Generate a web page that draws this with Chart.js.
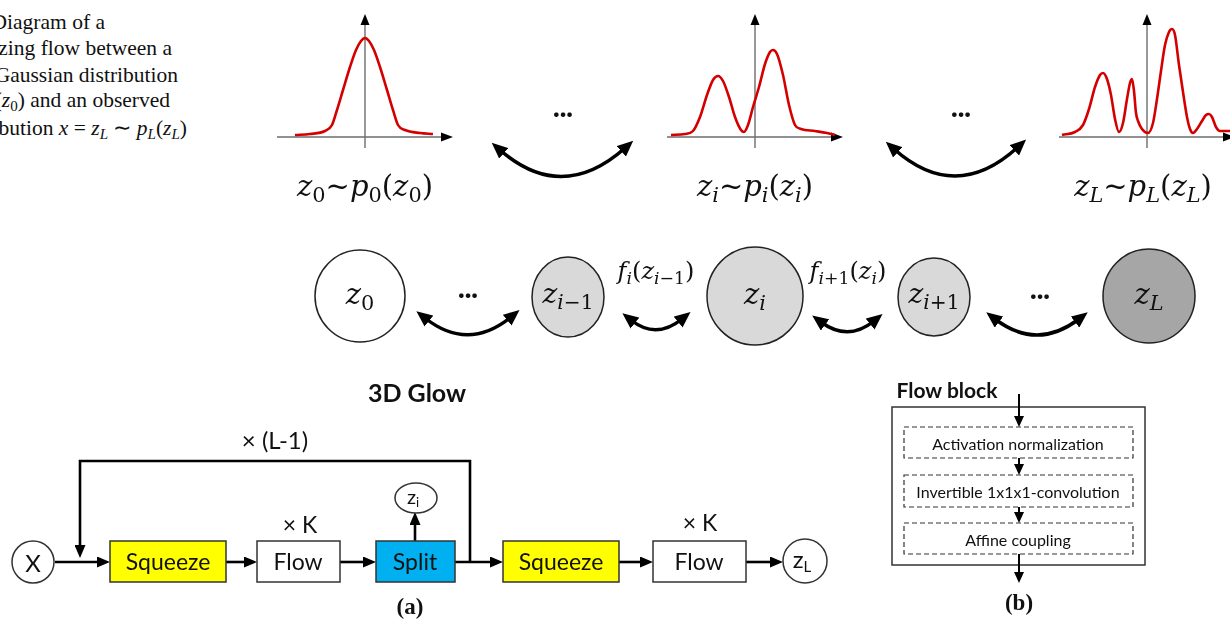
<!DOCTYPE html>
<html>
<head>
<meta charset="utf-8">
<script src="https://cdn.jsdelivr.net/npm/chart.js@4.4.1/dist/chart.umd.min.js"></script>
<style>
  body { margin: 0; background: #fff; }
  #page { position: relative; width: 1230px; height: 619px; overflow: hidden; background: #fff; }
  .mini { position: absolute; }
  #diagram { position: absolute; left: 0; top: 0; }
  .cap { position: absolute; font-family: 'Liberation Serif', serif; font-size: 21.5px; line-height: 26px; white-space: nowrap; color: #111; }
  .cap sub { font-size: 0.7em; vertical-align: -0.25em; line-height: 0; }
  .m { position: absolute; transform: translate(-50%, -50%); font-family: 'DejaVu Serif', serif; white-space: nowrap; color: #111; line-height: 1; }
  .m sub { font-size: 0.72em; vertical-align: -0.3em; line-height: 0; }
  .m i { font-style: italic; }
</style>
</head>
<body>
<div id="page">
  <!-- caption, cut off by the left edge -->
  <div class="cap" style="right:1125px;top:9px">Diagram of a</div>
  <div class="cap" style="right:1058px;top:35px">normalizing flow between a</div>
  <div class="cap" style="right:1052px;top:62px">simple Gaussian distribution</div>
  <div class="cap" style="right:1060px;top:87px"><i>z</i><sub>0</sub> ∼ <i>p</i><sub>0</sub>(<i>z</i><sub>0</sub>) and an observed</div>
  <div class="cap" style="right:1043px;top:115px">distribution <i>x</i> = <i>z<sub>L</sub></i> ∼ <i>p<sub>L</sub></i>(<i>z<sub>L</sub></i>)</div>

  <div class="mini" style="left:270px;top:8px"><canvas id="dist0" width="190" height="147"></canvas></div>
  <div class="mini" style="left:660px;top:8px"><canvas id="distI" width="190" height="147"></canvas></div>
  <div class="mini" style="left:1052px;top:8px"><canvas id="distL" width="190" height="147"></canvas></div>

  <svg id="diagram" width="1230" height="619">
    <defs>
      <marker id="headBig" markerUnits="userSpaceOnUse" viewBox="0 0 16 14" markerWidth="16" markerHeight="14" refX="5" refY="7" orient="auto-start-reverse">
        <path d="M0,0 L16,7 L0,14 z" fill="#000"/>
      </marker>
      <marker id="headMid" markerUnits="userSpaceOnUse" viewBox="0 0 13 11" markerWidth="13" markerHeight="11" refX="4" refY="5.5" orient="auto-start-reverse">
        <path d="M0,0 L13,5.5 L0,11 z" fill="#000"/>
      </marker>
      <marker id="headSmall" markerUnits="userSpaceOnUse" viewBox="0 0 11 10" markerWidth="11" markerHeight="10" refX="3" refY="5" orient="auto-start-reverse">
        <path d="M0,0 L11,5 L0,10 z" fill="#000"/>
      </marker>
    </defs>

    <!-- curved double arrows between the stages -->
    <g fill="none" stroke="#000" stroke-width="3.5" marker-start="url(#headBig)" marker-end="url(#headBig)">
      <path d="M500,150 Q562,204 625,148"/>
      <path d="M894,149 Q956,204 1018,147"/>
      <path d="M425,318 Q468,352 511,317"/>
      <path d="M631,320 Q656,340 682,319"/>
      <path d="M821,322 Q848,342 874,321"/>
      <path d="M995,319 Q1037,351 1079,319"/>
    </g>
    <g font-family="Lato, sans-serif" font-weight="900" font-size="28" text-anchor="middle" fill="#111">
      <text x="563" y="117">...</text>
      <text x="961" y="117">...</text>
      <text x="468" y="298">...</text>
      <text x="1040" y="299">...</text>
    </g>

    <!-- middle row: latent variables -->
    <g stroke="#222" stroke-width="1.5">
      <ellipse cx="360" cy="296" rx="45" ry="46" fill="#fff"/>
      <ellipse cx="568" cy="297" rx="36" ry="40" fill="#d9d9d9"/>
      <ellipse cx="755" cy="296" rx="48" ry="49" fill="#d9d9d9"/>
      <ellipse cx="934" cy="297" rx="36" ry="39" fill="#d9d9d9"/>
      <ellipse cx="1149" cy="296" rx="46" ry="47" fill="#a6a6a6"/>
    </g>

    <!-- (a) 3D Glow -->
    <g fill="none" stroke="#000" stroke-width="2.6" marker-end="url(#headMid)">
      <path d="M55,562 H101"/>
      <path d="M226,562 H248"/>
      <path d="M340,562 H367"/>
      <path d="M455,562 H494"/>
      <path d="M619,562 H644"/>
      <path d="M746,562 H774"/>
      <path d="M415,541 V521"/>
      <path d="M470,562 V461 H80 V549"/>
    </g>
    <g stroke="#333" stroke-width="1.5">
      <ellipse cx="33" cy="562" rx="21" ry="21" fill="#fff"/>
      <ellipse cx="416" cy="498" rx="21" ry="15" fill="#fff"/>
      <ellipse cx="805" cy="561" rx="22" ry="22" fill="#fff"/>
      <rect x="110" y="541" width="116" height="41" fill="#ffff00"/>
      <rect x="257" y="541" width="83" height="41" fill="#fff"/>
      <rect x="376" y="541" width="79" height="41" fill="#00b0f0"/>
      <rect x="503" y="541" width="116" height="41" fill="#ffff00"/>
      <rect x="653" y="541" width="93" height="41" fill="#fff"/>
    </g>
    <g font-family="Lato, sans-serif" font-size="23" text-anchor="middle" dominant-baseline="central" fill="#111">
      <text x="168" y="561">Squeeze</text>
      <text x="298" y="561">Flow</text>
      <text x="415" y="561">Split</text>
      <text x="561" y="561">Squeeze</text>
      <text x="699" y="561">Flow</text>
      <text x="33" y="562" font-size="24">X</text>
      <text x="300" y="524">× K</text>
      <text x="700" y="522">× K</text>
      <text x="275" y="439" font-size="24">× (L-1)</text>
      <text x="417" y="392" font-size="25" font-weight="bold">3D Glow</text>
      <text x="413" y="496" font-size="20">z<tspan font-size="13" dy="6">i</tspan></text>
      <text x="802" y="558" font-size="24">z<tspan font-size="15" dy="8">L</tspan></text>
    </g>

    <!-- (b) Flow block -->
    <rect x="892" y="407" width="253" height="158" fill="none" stroke="#333" stroke-width="1.5"/>
    <g fill="none" stroke="#333" stroke-width="1.2" stroke-dasharray="5,3">
      <rect x="904" y="427" width="229" height="31"/>
      <rect x="904" y="475" width="229" height="32"/>
      <rect x="904" y="523" width="229" height="31"/>
    </g>
    <g fill="none" stroke="#000" stroke-width="2" marker-end="url(#headSmall)">
      <path d="M1019,394 V419"/>
      <path d="M1019,458 V467"/>
      <path d="M1019,507 V515"/>
      <path d="M1019,554 V575"/>
    </g>
    <g font-family="Lato, sans-serif" font-size="16" text-anchor="middle" dominant-baseline="central" fill="#111">
      <text x="1018" y="443">Activation normalization</text>
      <text x="1018" y="491">Invertible 1x1x1-convolution</text>
      <text x="1018" y="539">Affine coupling</text>
      <text x="947" y="389" font-size="21" font-weight="bold">Flow block</text>
    </g>
    <g font-family="'Liberation Serif', serif" font-size="23" font-weight="bold" text-anchor="middle" dominant-baseline="central" fill="#111">
      <text x="410" y="606">(a)</text>
      <text x="1019" y="602">(b)</text>
    </g>
  </svg>

  <!-- math labels -->
  <div class="m" style="left:365px;top:186px;font-size:29px"><i>z</i><sub>0</sub>~<i>p</i><sub>0</sub>(<i>z</i><sub>0</sub>)</div>
  <div class="m" style="left:755px;top:186px;font-size:29px"><i>z<sub>i</sub></i>~<i>p<sub>i</sub></i>(<i>z<sub>i</sub></i>)</div>
  <div class="m" style="left:1143px;top:186px;font-size:29px"><i>z<sub>L</sub></i>~<i>p<sub>L</sub></i>(<i>z<sub>L</sub></i>)</div>

  <div class="m" style="left:360px;top:294px;font-size:29px"><i>z</i><sub>0</sub></div>
  <div class="m" style="left:568px;top:294px;font-size:28px"><i>z</i><sub><i>i</i>−1</sub></div>
  <div class="m" style="left:755px;top:294px;font-size:29px"><i>z<sub>i</sub></i></div>
  <div class="m" style="left:934px;top:294px;font-size:28px"><i>z</i><sub><i>i</i>+1</sub></div>
  <div class="m" style="left:1149px;top:294px;font-size:29px"><i>z<sub>L</sub></i></div>

  <div class="m" style="left:656px;top:271px;font-size:24px"><i>f<sub>i</sub></i>(<i>z</i><sub><i>i</i>−1</sub>)</div>
  <div class="m" style="left:848px;top:271px;font-size:24px"><i>f</i><sub><i>i</i>+1</sub>(<i>z<sub>i</sub></i>)</div>
</div>

<script>
// curves: x = offset from the vertical axis, y = height above the horizontal axis (px)
const gaussX = [-70, -55, -40, -33, -28, -22, -15, -9, -4, 0, 4, 9, 15, 22, 28, 33, 40, 55, 68];
const gaussY = [2, 3, 6, 12, 27, 47, 70, 87, 96, 99, 96, 87, 70, 47, 27, 12, 7, 4, 3];

const bimodalX = [-84, -70, -62, -55, -48, -42, -37, -32, -26, -20, -14, -11, -7, -2, 4, 10, 15, 18, 22, 28, 34, 40, 46, 60, 72, 80];
const bimodalY = [2, 3, 6, 20, 42, 57, 61, 56, 40, 20, 7, 5, 12, 30, 50, 73, 85, 87, 83, 62, 32, 12, 8, 6, 4, 2];

const multiX = [-85, -72, -64, -58, -52, -47, -44, -40, -36, -32, -28, -24, -20, -17, -15, -13, -11, -9, -5, 1, 6, 10, 14, 18, 22, 25, 28, 32, 36, 40, 43, 46, 50, 55, 59, 62, 65, 69, 73, 78, 86];
const multiY = [2, 5, 12, 28, 50, 62, 64, 58, 42, 18, 5, 14, 38, 54, 58, 46, 24, 16, 8, 4, 14, 38, 66, 92, 105, 108, 102, 72, 45, 20, 8, 4, 8, 16, 22, 23, 20, 10, 6, 6, 6];

// axis extents (same units as above)
const AXIS_HALF = 88;
const AXIS_TOP = 123;
const AXIS_BOTTOM = -11;

// draws the two axes with arrow heads, crossing at (0, 0)
const axisArrows = {
  id: 'axisArrows',
  beforeDatasetsDraw(chart) {
    const { ctx, scales: { x, y } } = chart;
    const ox = x.getPixelForValue(0);
    const oy = y.getPixelForValue(0);
    const left = x.getPixelForValue(-AXIS_HALF);
    const right = x.getPixelForValue(AXIS_HALF);
    const top = y.getPixelForValue(AXIS_TOP);
    const bottom = y.getPixelForValue(AXIS_BOTTOM);

    ctx.save();
    ctx.strokeStyle = '#6e6e6e';
    ctx.lineWidth = 1.4;
    ctx.beginPath();
    ctx.moveTo(left, oy);
    ctx.lineTo(right - 8, oy);
    ctx.moveTo(ox, bottom);
    ctx.lineTo(ox, top + 8);
    ctx.stroke();

    ctx.fillStyle = '#000';
    ctx.beginPath();
    ctx.moveTo(right, oy);
    ctx.lineTo(right - 12, oy - 4.5);
    ctx.lineTo(right - 12, oy + 4.5);
    ctx.closePath();
    ctx.fill();
    ctx.beginPath();
    ctx.moveTo(ox, top);
    ctx.lineTo(ox - 4.5, top + 11);
    ctx.lineTo(ox + 4.5, top + 11);
    ctx.closePath();
    ctx.fill();
    ctx.restore();
  }
};

function renderDensity(id, xs, ys) {
  const ctx = document.getElementById(id).getContext('2d');
  return new Chart(ctx, {
    type: 'line',
    data: {
      datasets: [{
        data: xs.map((x, i) => ({ x: x, y: ys[i] })),
        borderColor: '#d40000',
        borderWidth: 2.6,
        pointRadius: 0,
        cubicInterpolationMode: 'monotone',
        fill: false,
        clip: false
      }]
    },
    options: {
      responsive: false,
      animation: false,
      events: [],
      layout: { padding: 0 },
      plugins: {
        legend: { display: false },
        tooltip: { enabled: false }
      },
      scales: {
        x: { type: 'linear', min: -95, max: 95, display: false },
        y: { min: -18, max: 129, display: false }
      }
    },
    plugins: [axisArrows]
  });
}

renderDensity('dist0', gaussX, gaussY);
renderDensity('distI', bimodalX, bimodalY);
renderDensity('distL', multiX, multiY);
</script>
</body>
</html>
